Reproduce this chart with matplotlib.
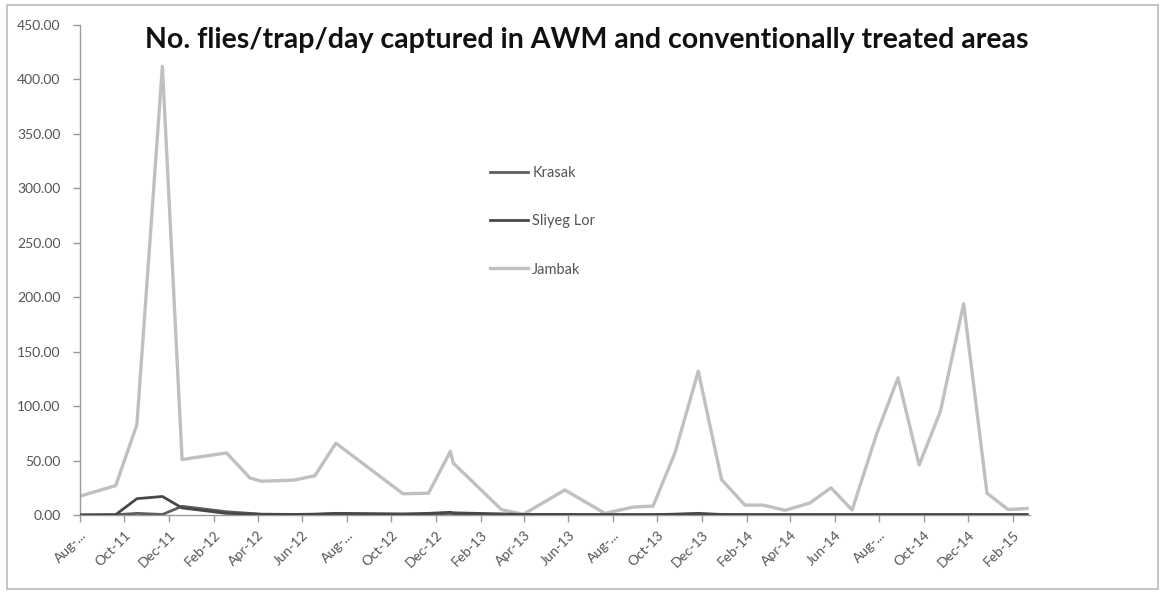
import matplotlib
matplotlib.use("Agg")
import matplotlib.pyplot as plt
import pandas as pd
from matplotlib.patches import Rectangle

# ---- data ----
dates = ["2011-08-01", "2011-09-19", "2011-10-18", "2011-11-22", "2011-12-19",
         "2012-02-18", "2012-03-21", "2012-04-06", "2012-05-20", "2012-06-18",
         "2012-07-17", "2012-10-17", "2012-11-21", "2012-12-21", "2012-12-25",
         "2013-03-01", "2013-03-31", "2013-05-27", "2013-07-21", "2013-08-04",
         "2013-08-29", "2013-09-25", "2013-10-25", "2013-11-26", "2013-12-28",
         "2014-01-29", "2014-02-23", "2014-03-25", "2014-04-28", "2014-05-27",
         "2014-06-25", "2014-07-29", "2014-08-27", "2014-09-25", "2014-10-24",
         "2014-11-25", "2014-12-27", "2015-01-25", "2015-02-20"]

krasak = [0.0, 0.2, 1.5, 0.5, 8.0, 3.0, 1.5, 0.8, 0.5, 0.5,
          1.0, 0.5, 0.8, 1.5, 1.2, 0.5, 0.3, 0.3, 0.3, 0.3,
          0.3, 0.3, 0.5, 0.8, 0.3, 0.3, 0.3, 0.3, 0.3, 0.3,
          0.3, 0.3, 0.3, 0.3, 0.3, 0.3, 0.3, 0.3, 0.3]

sliyeg_lor = [0.0, 0.3, 15.0, 17.0, 6.5, 1.5, 1.0, 0.5, 0.5, 0.8,
              1.5, 1.0, 1.5, 2.5, 2.0, 1.0, 0.5, 0.5, 0.3, 0.3,
              0.3, 0.3, 0.8, 1.5, 0.5, 0.3, 0.3, 0.3, 0.3, 0.3,
              0.3, 0.3, 0.3, 0.3, 0.3, 0.3, 0.3, 0.3, 0.3]

jambak = [17.3, 27.0, 83.0, 412.0, 51.0, 57.0, 34.0, 31.0, 32.0, 36.0,
          66.0, 19.5, 20.0, 58.4, 47.7, 5.0, 0.6, 23.0, 1.5, 3.6,
          7.3, 8.2, 57.0, 132.0, 32.5, 9.1, 9.1, 4.3, 11.0, 25.0,
          4.6, 75.0, 126.0, 46.0, 95.0, 194.0, 20.0, 5.0, 6.0]

series_names = ["Krasak", "Sliyeg Lor", "Jambak"]

tick_labels = ["Aug-...", "Oct-11", "Dec-11", "Feb-12", "Apr-12", "Jun-12",
               "Aug-...", "Oct-12", "Dec-12", "Feb-13", "Apr-13", "Jun-13",
               "Aug-...", "Oct-13", "Dec-13", "Feb-14", "Apr-14", "Jun-14",
               "Aug-...", "Oct-14", "Dec-14", "Feb-15"]

y_ticks = [0, 50, 100, 150, 200, 250, 300, 350, 400, 450]

title = "No. flies/trap/day captured in AWM and conventionally treated areas"

# ---- figure ----
plt.rcParams['font.family'] = ['Lato', 'DejaVu Sans']
W, H = 1164, 593
fig = plt.figure(figsize=(W / 100, H / 100), dpi=100)
ax = fig.add_axes([80 / W, 1 - 515 / H, (1030 - 80) / W, (515 - 25) / H])

x = pd.to_datetime(dates)
ax.plot(x, jambak, color="#c0c0c0", lw=2.4, label=series_names[2], zorder=2)
ax.plot(x, krasak, color="#5e5e5e", lw=2.0, label=series_names[0], zorder=3)
ax.plot(x, sliyeg_lor, color="#474747", lw=2.0, label=series_names[1], zorder=3)

ax.set_ylim(0, 450)
ax.set_yticks(y_ticks)
ax.set_yticklabels([f"{v:.2f}" for v in y_ticks])
ax.set_xlim(x[0], x[-1] + pd.Timedelta(days=4))

tick_dates = pd.date_range("2011-08-01", "2015-02-01", freq="2MS")
ax.set_xticks(tick_dates)
ax.set_xticklabels(tick_labels, rotation=45, ha="right", rotation_mode="anchor")

for s in ["top", "right"]:
    ax.spines[s].set_visible(False)
for s in ["left", "bottom"]:
    ax.spines[s].set_color("#9a9a9a")
    ax.spines[s].set_linewidth(1.0)
ax.tick_params(axis="both", colors="#9a9a9a", labelcolor="#555555",
               labelsize=10, length=5, width=1, direction="out")
ax.tick_params(axis="y", pad=9)
ax.tick_params(axis="x", pad=5)

# legend
handles, labels = ax.get_legend_handles_labels()
order = [1, 2, 0]
leg = fig.legend([handles[i] for i in order], [labels[i] for i in order],
                 loc="upper left", bbox_to_anchor=(490 / W, 1 - 166 / H),
                 frameon=False, fontsize=10.5, labelspacing=2.35,
                 handlelength=2.6, handletextpad=0.3, borderpad=0,
                 borderaxespad=0)
for t in leg.get_texts():
    t.set_color("#555555")

fig.text(587 / W, 1 - 40 / H, title, ha="center", va="center",
         fontsize=20.5, fontweight="bold", color="#111111")

fig.patches.append(Rectangle((7 / W, 4 / H), (1158 - 7) / W, (588 - 4) / H,
                             transform=fig.transFigure, fill=False,
                             edgecolor="#bbbbbb", lw=1.2))

fig.savefig("out.png", dpi=100)
